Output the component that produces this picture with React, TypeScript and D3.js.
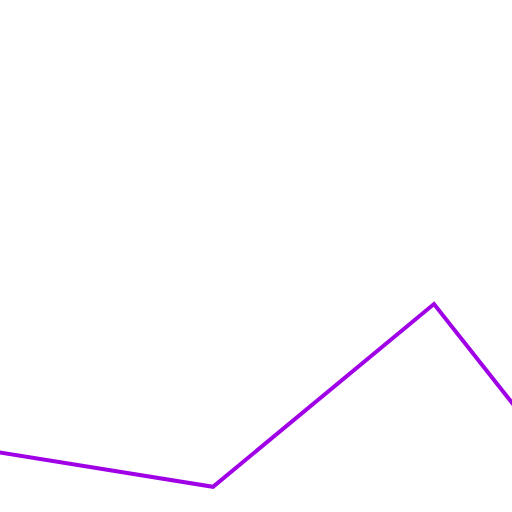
import React, { useEffect, useRef } from 'react';
import * as d3 from 'd3';

const categories = ['A', 'B', 'C', 'D'];
const values = [37.2, 28.3, 74, 4];

const App = () => {
  const svgRef = useRef<SVGSVGElement>(null);

  useEffect(() => {
    const width = 512;
    const height = 512;

    const svg = d3.select(svgRef.current);
    svg.selectAll('*').remove();
    svg.attr('width', width).attr('height', height);

    const x = d3.scalePoint<string>()
      .domain(categories)
      .range([-8, 655]);

    const y = d3.scaleLinear()
      .domain([0, 100])
      .range([600, 200]);

    const line = d3.line<number>()
      .x((d, i) => x(categories[i]) as number)
      .y(d => y(d));

    svg.append('path')
      .datum(values)
      .attr('fill', 'none')
      .attr('stroke', '#a000e6')
      .attr('stroke-width', 4)
      .attr('stroke-linejoin', 'miter')
      .attr('d', line);
  }, []);

  return (
    <svg
      ref={svgRef}
      style={{ position: 'fixed', top: 0, left: 0, overflow: 'hidden', background: '#fff' }}
    ></svg>
  );
};

export default App;
